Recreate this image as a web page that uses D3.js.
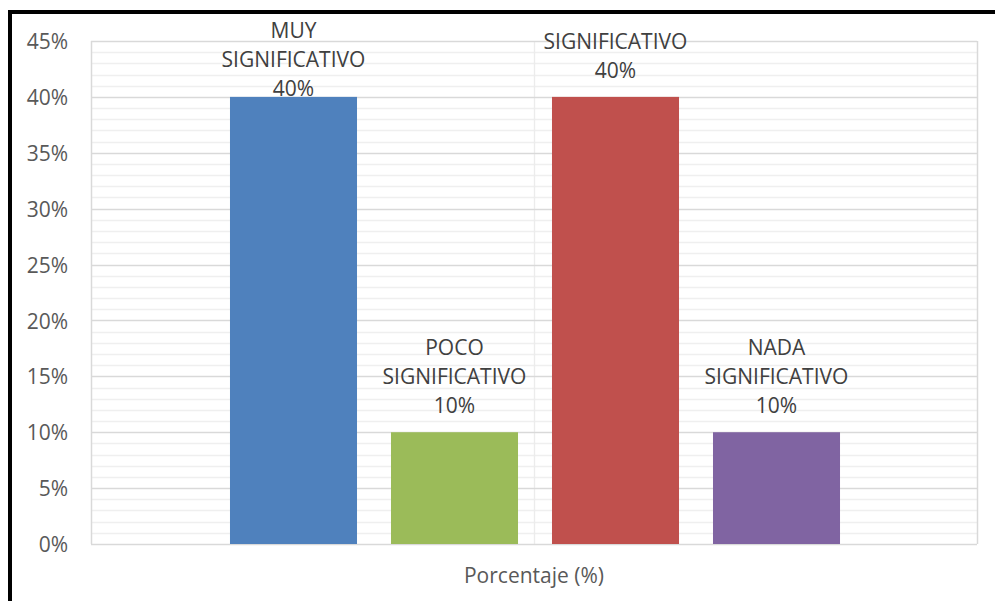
<!DOCTYPE html>
<html><head><meta charset="utf-8">
<script src="https://cdn.jsdelivr.net/npm/d3@7"></script>
<style>
html,body{margin:0;padding:0;background:#fff;}
svg{display:block;}
text{font-family:"Open Sans",sans-serif;}
</style></head>
<body>
<svg id="c" width="995" height="601"></svg>
<script>
const categories = ["MUY SIGNIFICATIVO","POCO SIGNIFICATIVO","SIGNIFICATIVO","NADA SIGNIFICATIVO"];
const labelLines = [["MUY","SIGNIFICATIVO"],["POCO","SIGNIFICATIVO"],["SIGNIFICATIVO"],["NADA","SIGNIFICATIVO"]];
const values = [0.40, 0.10, 0.40, 0.10];
const colors = ["#4f81bd","#9bbb59","#c0504d","#8064a2"];
const yTicks = [0,0.05,0.10,0.15,0.20,0.25,0.30,0.35,0.40,0.45];
const axisTitle = "Porcentaje (%)";

const svg = d3.select("#c");
const L = 91, R = 977, T = 41, B = 544;
const y = d3.scaleLinear().domain([0,0.45]).range([B,T]);
const x = d3.scaleBand().domain(categories).range([L+1,R+1]).paddingInner(0.211).paddingOuter(0.857);
const fmt = d3.format(".0%");
const FS = 21;

// outer border (left/top visible)
svg.append("path").attr("d",`M10,601 L10,12 L995,12`).attr("fill","none").attr("stroke","#000").attr("stroke-width",4);

// minor gridlines
const minor = d3.range(0,46).map(d=>d/100).filter(d=>Math.round(d*100)%5!==0);
svg.append("g").selectAll("line").data(minor).join("line")
  .attr("x1",L).attr("x2",R).attr("y1",d=>Math.round(y(d))+0.5).attr("y2",d=>Math.round(y(d))+0.5)
  .attr("stroke","#efefef").attr("stroke-width",1.3);
// vertical middle line
svg.append("line").attr("x1",Math.round((L+R)/2)+0.5).attr("x2",Math.round((L+R)/2)+0.5).attr("y1",T).attr("y2",B)
  .attr("stroke","#ececec").attr("stroke-width",1.3);
// major gridlines
svg.append("g").selectAll("line").data(yTicks).join("line")
  .attr("x1",L).attr("x2",R).attr("y1",d=>Math.round(y(d))+0.5).attr("y2",d=>Math.round(y(d))+0.5)
  .attr("stroke","#d9d9d9").attr("stroke-width",1.5);
// vertical edges
[L,R].forEach(xx=>svg.append("line").attr("x1",xx+0.5).attr("x2",xx+0.5).attr("y1",T).attr("y2",B).attr("stroke","#d9d9d9").attr("stroke-width",1.5));

// y tick labels via axis
const yAxis = svg.append("g").attr("transform",`translate(${L},0)`)
  .call(d3.axisLeft(y).tickValues(yTicks).tickFormat(fmt).tickSize(0).tickPadding(23));
yAxis.select(".domain").remove();
yAxis.selectAll("text").attr("font-size",FS).attr("fill","#595959").style("font-family","'Open Sans',sans-serif").attr("dy","0.36em");

// data labels (drawn before bars so bars overlap, like reference)
const lh = 29;
const lab = svg.append("g");
categories.forEach((c,i)=>{
  const lines = labelLines[i].concat([fmt(values[i])]);
  const n = lines.length;
  let firstBase = y(values[i]) - 19 - (n-1)*lh;
  if (firstBase < 38) firstBase = 38;
  const t = lab.append("text").attr("text-anchor","middle").attr("font-size",FS).attr("fill","#404040");
  lines.forEach((s,k)=>t.append("tspan").attr("x",x(c)+x.bandwidth()/2).attr("y",firstBase+k*lh).text(s));
});

// bars
svg.append("g").selectAll("rect").data(categories).join("rect")
  .attr("x",d=>x(d)).attr("width",x.bandwidth())
  .attr("y",(d,i)=>y(values[i])).attr("height",(d,i)=>B-y(values[i]))
  .attr("fill",(d,i)=>colors[i]);

// axis title
svg.append("text").attr("x",(L+R)/2).attr("y",583).attr("text-anchor","middle")
  .attr("font-size",FS).attr("fill","#595959").text(axisTitle);
</script>
</body></html>
